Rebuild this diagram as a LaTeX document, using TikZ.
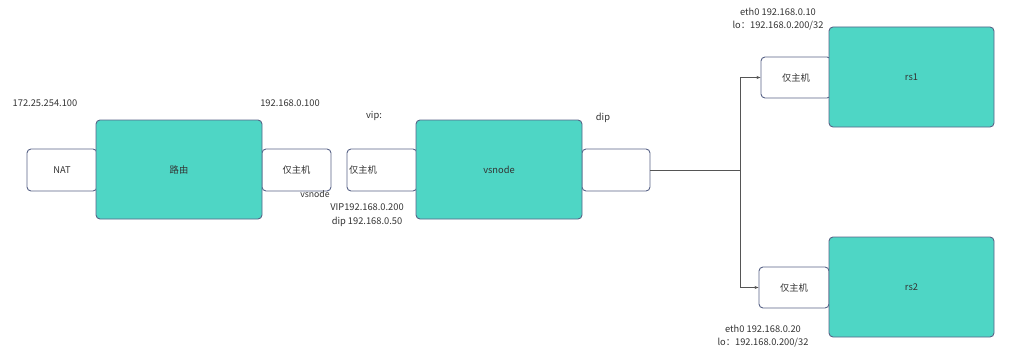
\documentclass[tikz,border=0pt]{standalone}
\usepackage{fontspec}
\setmainfont{Noto Sans CJK SC}
\usetikzlibrary{positioning, arrows.meta}
\definecolor{boxteal}{HTML}{4ED6C5}
\definecolor{boxline}{HTML}{596387}
\definecolor{txtgray}{HTML}{333333}
\definecolor{wiregray}{HTML}{555555}

\begin{document}
\begin{tikzpicture}[x=1pt, y=-1pt, font=\fontsize{9.3}{11}\selectfont, text=txtgray,
    host/.style={draw=boxline, line width=0.9pt, fill=white, rounded corners=4pt, minimum width=70pt, minimum height=42pt, inner sep=0pt},
    machine/.style={draw=boxline, line width=0.9pt, fill=boxteal, rounded corners=4pt, minimum width=166pt, minimum height=99pt, inner sep=0pt},
    iptext/.style={inner sep=0pt},
    wire/.style={draw=wiregray, line width=0.8pt}]
    \useasboundingbox (0,0) rectangle (1033,353);

    % white ports first, machines drawn over them
    \node[host] (nat) at (62,170) {NAT};
    \node[host, minimum width=69pt] (hostL) at (296.5,170) {仅主机};
    \node[host, text width=66pt, align=left, inner xsep=2pt] (hostV) at (382,170) {仅主机};
    \node[host, minimum width=68pt] (dipbox) at (616,170) {};
    \node[host, minimum height=41pt] (hostA) at (796,77.5) {仅主机};
    \node[host, minimum height=41pt] (hostB) at (794,287.5) {仅主机};

    \node[machine] (router) at (179,169.5) {路由};
    \node[machine] (vsnode) at (499,169.5) {vsnode};
    \node[machine, minimum width=165pt, minimum height=100pt] (rs1) at (911.5,77) {rs1};
    \node[machine, minimum width=165pt, minimum height=100pt] (rs2) at (911.5,287) {rs2};

    % addresses
    \node[iptext] (natip) at (45,103) {172.25.254.100};
    \node[iptext] (hostLip) at (290,103) {192.168.0.100};
    \node[iptext] (viptag) at (374,116) {vip:};
    \node[iptext] (diptag) at (603,118) {dip};
    \node[iptext, font=\fontsize{8.7}{10}\selectfont] (vsname) at (315,194) {vsnode};
    \node[iptext, align=center, font=\fontsize{9.3}{14}\selectfont] (vsip) at (367,215) {VIP192.168.0.200\\dip 192.168.0.50};
    \node[iptext, align=center, font=\fontsize{9.3}{13}\selectfont] (rs1ip) at (778,19.5) {eth0 192.168.0.10\\lo：192.168.0.200/32};
    \node[iptext, align=center, font=\fontsize{9.3}{13}\selectfont] (rs2ip) at (763,336.5) {eth0 192.168.0.20\\lo：192.168.0.200/32};

    \coordinate (split) at (740,170);
    \path[wire] (dipbox.east) -- (split);
    \path[wire, -{Stealth[length=4pt, width=3pt]}]
        (split) |- (hostA.west);
    \path[wire, -{Stealth[length=4pt, width=3pt]}]
        (split) |- (hostB.west);
\end{tikzpicture}
\end{document}
